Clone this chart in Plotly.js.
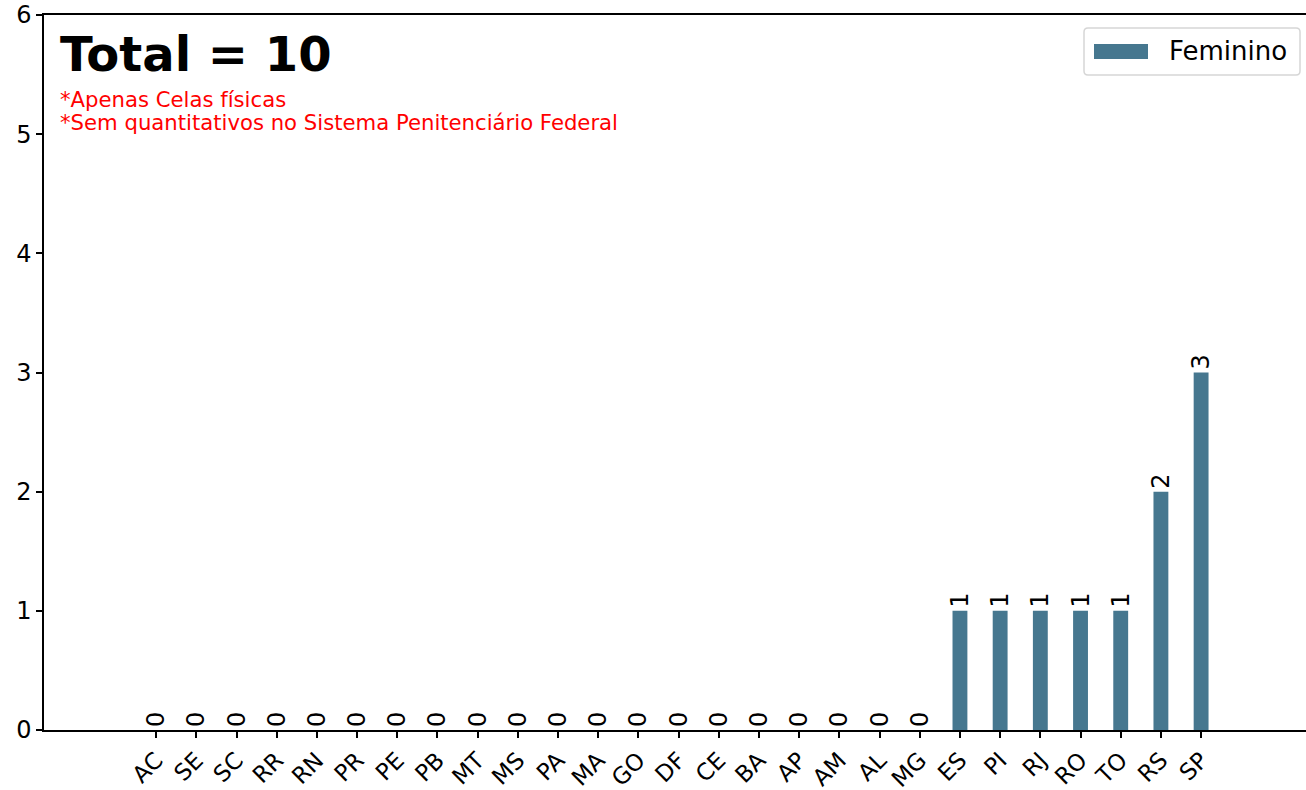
<!DOCTYPE html>
<html><head><meta charset="utf-8">
<script src="https://cdn.plot.ly/plotly-3.0.1.min.js"></script>
<style>body{margin:0;padding:0;background:#fff}#chart{width:1306px;height:790px}</style>
</head><body><div id="chart"></div>
<script>
const categories = ["AC","SE","SC","RR","RN","PR","PE","PB","MT","MS","PA","MA","GO","DF","CE","BA","AP","AM","AL","MG","ES","PI","RJ","RO","TO","RS","SP"];
const valuesFeminino = [0,0,0,0,0,0,0,0,0,0,0,0,0,0,0,0,0,0,0,0,1,1,1,1,1,2,3];
const seriesName = "Feminino";
const totalText = "Total = 10";
const notes = ["*Apenas Celas físicas","*Sem quantitativos no Sistema Penitenciário Federal"];
const yTicks = [0,1,2,3,4,5,6];

const xs = categories.map((c,i)=>i);
const font = "DejaVu Sans, sans-serif";
const barColor = "#46778f";

const trace = {
  type:"bar", x: xs, y: valuesFeminino, name: seriesName,
  width: 0.37,
  marker:{color:barColor},
  text: valuesFeminino.map(String), textposition:"outside", textangle:-90,
  constraintext:"none",
  textfont:{family:font,size:24,color:"#000"},
  cliponaxis:false, showlegend:false
};
const W=1306, H=790, L=44, T=15, B=60;
const px = x => (x-L)/(W-L);
const py = y => 1-(y-T)/(H-T-B);
const layout = {
  width:W, height:H,
  margin:{l:L,r:0,t:T,b:B},
  paper_bgcolor:"#fff", plot_bgcolor:"#fff",
  font:{family:font,color:"#000"},
  xaxis:{range:[-2.79,28.61], tickvals:xs, ticktext:categories, tickangle:-45,
    showline:true, linecolor:"#000", linewidth:1.5, mirror:true, showgrid:false, zeroline:false,
    ticks:"outside", ticklen:6, tickwidth:1.5, tickcolor:"#000",
    tickfont:{family:font,size:23,color:"#000"}},
  yaxis:{range:[0,6], tickvals:yTicks, showline:true, linecolor:"#000", linewidth:1.5, showgrid:false, zeroline:false,
    ticks:"outside", ticklen:6, tickwidth:1.5, tickcolor:"#000",
    tickfont:{family:font,size:24,color:"#000"}},
  showlegend:false,
  shapes:[
    {type:"path",xref:"paper",yref:"paper",
     path:`M ${px(1088)} ${py(28)} L ${px(1296)} ${py(28)} Q ${px(1300)} ${py(28)} ${px(1300)} ${py(32)} L ${px(1300)} ${py(71)} Q ${px(1300)} ${py(75)} ${px(1296)} ${py(75)} L ${px(1088)} ${py(75)} Q ${px(1084)} ${py(75)} ${px(1084)} ${py(71)} L ${px(1084)} ${py(32)} Q ${px(1084)} ${py(28)} ${px(1088)} ${py(28)} Z`,
     line:{color:"#d6d6d6",width:1.5},fillcolor:"rgba(255,255,255,0.8)"},
    {type:"rect",xref:"paper",yref:"paper",x0:px(1094),x1:px(1148),y0:py(44),y1:py(59),
     line:{width:0},fillcolor:barColor}
  ],
  annotations:[
    {xref:"paper",yref:"paper",x:px(1167),y:py(51),xanchor:"left",yanchor:"middle",showarrow:false,
     text:seriesName,font:{family:font,size:26,color:"#000"}},
    {xref:"paper",yref:"paper",x:px(58),y:py(54),xanchor:"left",yanchor:"middle",showarrow:false,
     text:"<b>"+totalText+"</b>",font:{family:font,size:48,color:"#000"}},
    {xref:"paper",yref:"paper",x:px(58),y:py(100),xanchor:"left",yanchor:"middle",showarrow:false,
     text:notes[0],font:{family:font,size:21.2,color:"#ff0000"}},
    {xref:"paper",yref:"paper",x:px(58),y:py(123),xanchor:"left",yanchor:"middle",showarrow:false,
     text:notes[1],font:{family:font,size:21.2,color:"#ff0000"}}
  ]
};
Plotly.newPlot("chart",[trace],layout,{displayModeBar:false});
</script></body></html>
